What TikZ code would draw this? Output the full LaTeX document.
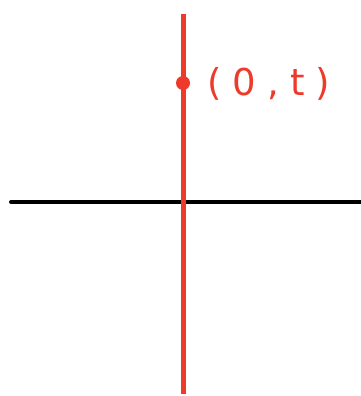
\documentclass[tikz,border=0pt]{standalone}
\usepackage{fontspec}
\setmainfont{DejaVu Sans}
\definecolor{pred}{HTML}{EE3A2A}
\tikzset{
  axisline/.style={line width=4pt, black, line cap=round},
  redline/.style={line width=5pt, pred},
  pointlabel/.style={text=pred, font=\fontsize{37}{40}\selectfont\addfontfeature{LetterSpace=30}, anchor=west, inner sep=0pt}
}
\begin{document}
\begin{tikzpicture}[x=1pt,y=-1pt]
\useasboundingbox (0,0) rectangle (360,396);
\coordinate (hl) at (11,202);
\coordinate (hr) at (362,202);
\coordinate (vt) at (183,14);
\coordinate (vb) at (183,394);
\draw[axisline] (hl) -- (hr);
\draw[redline] (vt) -- (vb);
\fill[pred] (183,83) circle (7pt) coordinate (p);
\node[pointlabel] (lab) at (207,84) {(0,t)};
\end{tikzpicture}
\end{document}
